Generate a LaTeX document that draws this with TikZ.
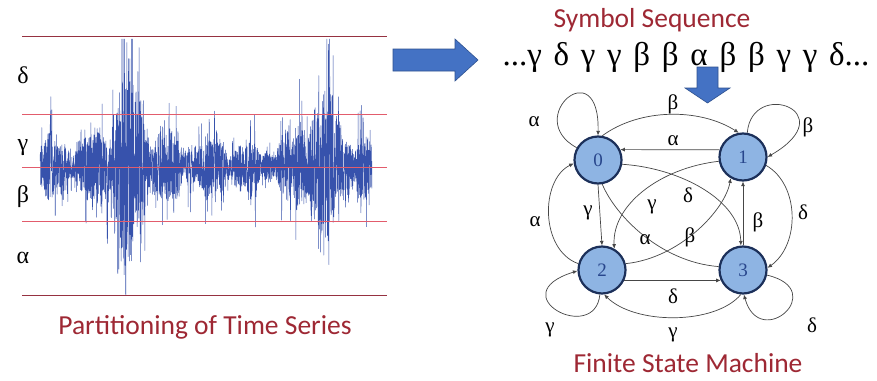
\documentclass[tikz,border=0pt]{standalone}
\usepackage{fontspec}
\usetikzlibrary{arrows.meta}
\newfontfamily\grk{Liberation Serif}
\newfontfamily\grkwide[WordSpace=1.42]{Liberation Serif}
\newfontfamily\capfont{Carlito}
\definecolor{capred}{RGB}{158,40,52}
\definecolor{bandred}{RGB}{226,92,108}
\definecolor{banddark}{RGB}{150,50,65}
\definecolor{sigblue}{RGB}{55,82,172}
\definecolor{arrowblue}{RGB}{68,114,196}
\definecolor{arrowedge}{RGB}{47,82,143}
\definecolor{statefill}{RGB}{142,180,227}
\definecolor{stateedge}{RGB}{28,48,90}
\definecolor{digit}{RGB}{40,70,140}
\definecolor{edgegray}{RGB}{70,70,70}
\begin{document}
\begin{tikzpicture}[x=1pt,y=-1pt,
  declare function={
    bump(\x,\c,\w)=exp(-(min(abs(\x-\c)/\w,5))^2);
    amp(\x)=36+12*sin(9*\x)+8*sin(23*\x+40)+70*bump(\x,128,11)+40*bump(\x,128,28)+45*bump(\x,322,11)+28*bump(\x,322,28)-10*bump(\x,265,15);
    sgv(\x)=max(-128,min(128,amp(\x)*rand*(0.65+1.1*rnd^9)));
  },
  band/.style={draw=bandred,line width=1pt},
  bandedge/.style={draw=banddark,line width=0.9pt},
  sig/.style={draw=sigblue,line width=0.5pt,line join=round},
  blockarrow/.style={fill=arrowblue,draw=arrowedge,line width=0.6pt},
  caption/.style={font=\capfont\fontsize{27.5}{27.5}\selectfont,text=capred,inner sep=0pt},
  grklab/.style={font=\grk\fontsize{21}{21}\selectfont,inner sep=0pt},
  bandlab/.style={font=\grk\fontsize{24}{24}\selectfont,inner sep=0pt},
  state/.style={circle,fill=statefill,draw=stateedge,line width=2.2pt,minimum size=47pt,inner sep=0pt,
                font=\grk\fontsize{19}{19}\selectfont,text=digit},
  tr/.style={draw=edgegray,line width=0.7pt,-{Latex[length=4.5pt,width=4pt]}},
  plain/.style={draw=edgegray,line width=0.7pt},
]
\useasboundingbox (0,0) rectangle (877,380);
\fill[white] (0,0) rectangle (877,380);

% ---------- partitioned time series ----------
\pgfmathsetseed{4242}
\draw[sig] plot[domain=40:372,samples=2200,variable=\t] (\t,{167-sgv(\t)});
\foreach \yy in {114,167,221}
  \draw[band] (22,\yy) -- (387,\yy);
\foreach \yy in {36,295}
  \draw[bandedge] (22,\yy) -- (387,\yy);
\node[bandlab] (ld) at (23,75) {δ};
\node[bandlab] (lg) at (23,148) {γ};
\node[bandlab] (lb) at (23,197) {β};
\node[bandlab] (la) at (23,258) {α};
\node[caption] (cap1) at (205,327) {Partitioning of Time Series};

% ---------- block arrows ----------
\path[blockarrow] (393,49) -- (455,49) -- (455,39) -- (478,60) -- (455,81) -- (455,71) -- (393,71) -- cycle;
\path[blockarrow] (697,67) -- (718,67) -- (718,88) -- (730,88) -- (707.5,103) -- (685,88) -- (697,88) -- cycle;

% ---------- symbol sequence ----------
\node[caption] (cap2) at (652,20) {Symbol Sequence};
\node[font=\grkwide\fontsize{33}{33}\selectfont,inner sep=0pt] (seq) at (686,57) {...γ δ γ γ β β α β β γ γ δ...};

% ---------- finite state machine ----------
\node[state] (s0) at (598,160) {0};
\node[state] (s1) at (743,157) {1};
\node[state] (s2) at (602,270) {2};
\node[state] (s3) at (743,270) {3};

% self loops
\draw[tr] (s0.150) .. controls (522,118) and (600,50) .. (s0.north);
\draw[tr] (s1.80) .. controls (752,78) and (845,112) .. (s1.east);
\draw[tr] (s2.265) .. controls (595,345) and (500,295) .. (s2.182);
\draw[tr] (s3.-12) .. controls (830,290) and (760,352) .. (s3.-88);

% straight transitions
\draw[tr] (s1.163) -- (s0.25);
\draw[tr] (s0.south) -- (s2.north);
\draw[tr] (s3.north) -- (s1.south);
\draw[tr] (s2.-25) -- (s3.205);

% arcs around the square
\draw[tr] (s0.80) .. controls (640,108) and (700,108) .. (s1.100);
\draw[tr] (s3.-95) .. controls (715,325) and (635,325) .. (s2.-85);
\draw[tr] (s2.165) .. controls (540,250) and (540,180) .. (s0.188);
\draw[tr] (s1.-20) .. controls (800,185) and (800,245) .. (s3.5);

% crossing diagonals
\draw[tr] (s0.-10) .. controls (680,168) and (740,200) .. (s3.95);
\draw[tr] (s1.190) .. controls (660,168) and (612,205) .. (s2.60);
\draw[tr] (s2.15) .. controls (680,258) and (725,210) .. (s1.240);
\draw[plain] (s3.172) .. controls (660,262) and (615,215) .. (s0.-80);

% transition labels
\node[grklab] (e1) at (534,122) {α};
\node[grklab] (e2) at (808,127) {β};
\node[grklab] (e3) at (550,330) {γ};
\node[grklab] (e4) at (812,325) {δ};
\node[grklab] (e5) at (673,141) {α};
\node[grklab] (e6) at (588,213) {γ};
\node[grklab] (e7) at (758,222) {β};
\node[grklab] (e8) at (673,296) {δ};
\node[grklab] (e9) at (673,104) {β};
\node[grklab] (e10) at (673,335) {γ};
\node[grklab] (e11) at (535,222) {α};
\node[grklab] (e12) at (803,212) {δ};
\node[grklab] (e13) at (688,195) {δ};
\node[grklab] (e14) at (652,207) {γ};
\node[grklab] (e15) at (690,237) {β};
\node[grklab] (e16) at (645,240) {α};

\node[caption] (cap3) at (688,363) {Finite State Machine};
\end{tikzpicture}
\end{document}
